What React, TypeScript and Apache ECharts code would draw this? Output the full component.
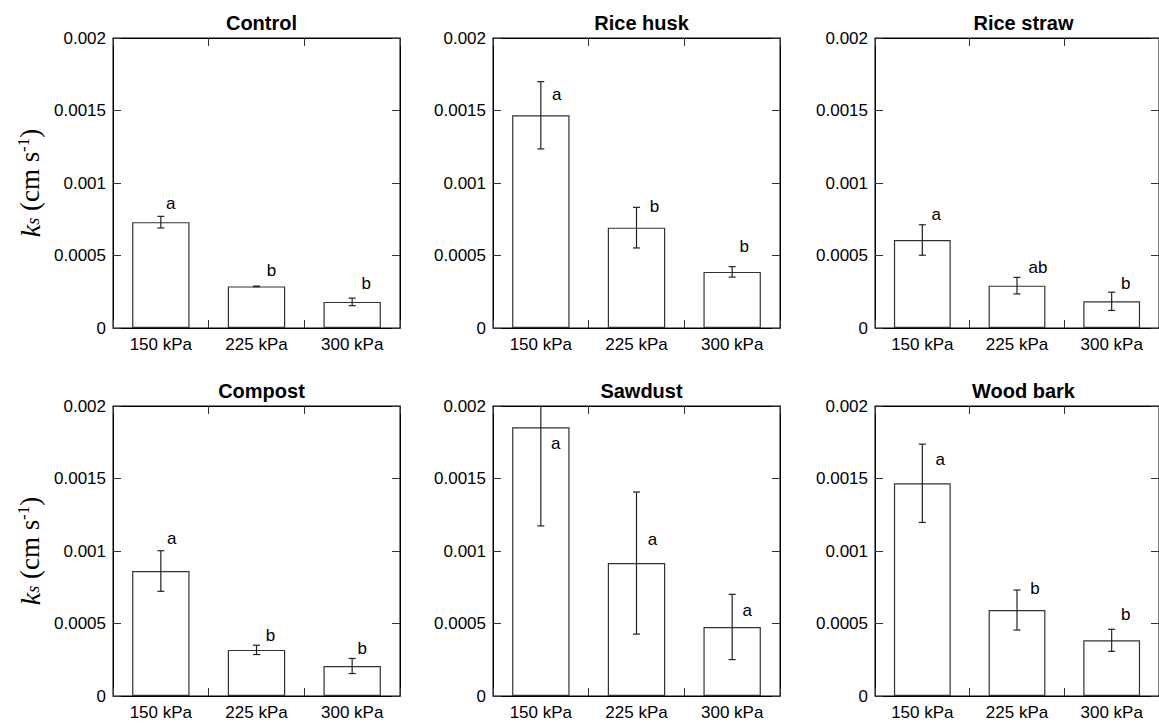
import React, { useEffect, useRef } from "react";
import * as echarts from "echarts";

// Compaction pressure levels
const categories = ["150 kPa", "225 kPa", "300 kPa"];

// Amendment treatments (one panel each)
const panelTitles = ["Control", "Rice husk", "Rice straw", "Compost", "Sawdust", "Wood bark"];

// Mean saturated hydraulic conductivity ks (cm s^-1)
const controlMean = [0.00073, 0.000287, 0.00018];
const riceHuskMean = [0.001467, 0.000692, 0.000387];
const riceStrawMean = [0.000607, 0.000292, 0.000184];
const compostMean = [0.000862, 0.000318, 0.000207];
const sawdustMean = [0.001853, 0.000917, 0.000476];
const woodBarkMean = [0.001467, 0.000593, 0.000384];

// Standard errors
const controlErr = [0.00004, 0.000002, 0.000026];
const riceHuskErr = [0.000232, 0.00014, 0.000036];
const riceStrawErr = [0.000105, 0.000057, 0.000063];
const compostErr = [0.00014, 0.000032, 0.000052];
const sawdustErr = [0.00068, 0.00049, 0.000225];
const woodBarkErr = [0.00027, 0.000138, 0.000076];

// Significance letters
const controlLetters = ["a", "b", "b"];
const riceHuskLetters = ["a", "b", "b"];
const riceStrawLetters = ["a", "ab", "b"];
const compostLetters = ["a", "b", "b"];
const sawdustLetters = ["a", "a", "a"];
const woodBarkLetters = ["a", "b", "b"];

// Y axis ticks
const yMin = 0;
const yMax = 0.002;
const yStep = 0.0005;

const means = [controlMean, riceHuskMean, riceStrawMean, compostMean, sawdustMean, woodBarkMean];
const errs = [controlErr, riceHuskErr, riceStrawErr, compostErr, sawdustErr, woodBarkErr];
const letters = [controlLetters, riceHuskLetters, riceStrawLetters, compostLetters, sawdustLetters, woodBarkLetters];

// Layout: pixel offsets of each letter from the top of its error bar
const letterOffsets = [
  [[10, -13], [15, -16], [14, -15]],
  [[16, 13], [18, -1], [12, -20]],
  [[14, -10], [21, -10], [14, -9]],
  [[11, -12], [14, -10], [10, -10]],
  [[15, 37], [16, 48], [15, 16]],
  [[18, 15], [18, -2], [14, -15]],
];

const colLeft = [113, 493, 875];
const rowTop = [38, 406];
const plotW = 287;
const plotH = 290;

const SANS = '"Liberation Sans", Arial, sans-serif';
const SERIF = '"Liberation Serif", "Times New Roman", serif';

function fmt(v: number) {
  return String(+v.toFixed(4));
}

export default function App() {
  const ref = useRef<HTMLDivElement>(null);

  useEffect(() => {
    if (!ref.current) return;
    const chart = echarts.init(ref.current, undefined, { renderer: "svg" });

    const grid: any[] = [];
    const xAxis: any[] = [];
    const yAxis: any[] = [];
    const series: any[] = [];
    const title: any[] = [];
    const graphic: any[] = [];

    const axisLine = { show: true, onZero: false, lineStyle: { color: "#000", width: 1 } };
    const tick = { show: true, inside: true, length: 8, lineStyle: { color: "#333", width: 1 } };

    panelTitles.forEach((name, p) => {
      const r = Math.floor(p / 3);
      const c = p % 3;
      const left = colLeft[c];
      const top = rowTop[r];
      grid.push({
        left,
        top,
        width: plotW,
        height: plotH,
        containLabel: false,
        show: true,
        borderColor: "#000",
        borderWidth: 1,
        backgroundColor: "transparent",
      });

      xAxis.push({
        type: "category",
        gridIndex: p,
        position: "bottom",
        data: categories,
        axisLine,
        axisTick: tick,
        axisLabel: { color: "#000", fontFamily: SANS, fontSize: 17, margin: 8 },
        splitLine: { show: false },
      });
      xAxis.push({
        type: "category",
        gridIndex: p,
        position: "top",
        data: categories,
        axisLine,
        axisTick: tick,
        axisLabel: { show: false },
        splitLine: { show: false },
      });
      yAxis.push({
        type: "value",
        gridIndex: p,
        position: "left",
        min: yMin,
        max: yMax,
        interval: yStep,
        axisLine,
        axisTick: tick,
        axisLabel: { color: "#000", fontFamily: SANS, fontSize: 17, margin: 7, formatter: fmt },
        splitLine: { show: false },
      });
      yAxis.push({
        type: "value",
        gridIndex: p,
        position: "right",
        min: yMin,
        max: yMax,
        interval: yStep,
        axisLine,
        axisTick: tick,
        axisLabel: { show: false },
        splitLine: { show: false },
      });

      series.push({
        type: "bar",
        xAxisIndex: p * 2,
        yAxisIndex: p * 2,
        data: means[p],
        barWidth: "60%",
        itemStyle: { color: "#fff", borderColor: "#333", borderWidth: 1.2 },
        z: 2,
      });

      series.push({
        type: "custom",
        xAxisIndex: p * 2,
        yAxisIndex: p * 2,
        z: 3,
        data: means[p].map((m, i) => [i, m, errs[p][i]]),
        renderItem: (params: any, api: any) => {
          const i = params.dataIndex;
          const m = means[p][i];
          const e = errs[p][i];
          const x = api.coord([i, m])[0];
          const yTop = api.coord([i, yMax])[1];
          let yHi = api.coord([i, m + e])[1];
          const yLo = api.coord([i, m - e])[1];
          const clipped = yHi < yTop;
          if (clipped) yHi = yTop;
          const cap = 3.5;
          const ls = { stroke: "#222", lineWidth: 1.2 };
          const children: any[] = [
            { type: "line", shape: { x1: x, y1: yHi, x2: x, y2: yLo }, style: ls },
            { type: "line", shape: { x1: x - cap, y1: yLo, x2: x + cap, y2: yLo }, style: ls },
          ];
          if (!clipped) {
            children.push({ type: "line", shape: { x1: x - cap, y1: yHi, x2: x + cap, y2: yHi }, style: ls });
          }
          const off = letterOffsets[p][i];
          children.push({
            type: "text",
            x: x + off[0],
            y: yHi + off[1],
            style: {
              text: letters[p][i],
              fill: "#000",
              font: `17px ${SANS}`,
              align: "center",
              verticalAlign: "middle",
            },
          });
          return { type: "group", children };
        },
      });

      title.push({
        text: name,
        left: left + plotW / 2,
        top: top - 30,
        textAlign: "center",
        textStyle: { fontFamily: SANS, fontSize: 20, fontWeight: "bold", color: "#000" },
      });
    });

    // Y axis name for each row
    rowTop.forEach((t) => {
      graphic.push({
        type: "text",
        x: 30,
        y: t + plotH / 2,
        rotation: Math.PI / 2,
        style: {
          text: "{k|k}{s|s}{n| (cm s}{sup|-1}{n|)}",
          align: "center",
          verticalAlign: "middle",
          fill: "#000",
          font: `26px ${SERIF}`,
          rich: {
            k: { fontFamily: SERIF, fontStyle: "italic", fontSize: 28, lineHeight: 32, fill: "#000" },
            s: { fontFamily: SERIF, fontStyle: "italic", fontSize: 18, verticalAlign: "bottom", padding: [0, 0, 4, 0], fill: "#000" },
            n: { fontFamily: SERIF, fontSize: 27, lineHeight: 32, fill: "#000" },
            sup: { fontFamily: SERIF, fontSize: 17, verticalAlign: "top", padding: [1, 0, 0, 0], fill: "#000" },
          },
        },
      });
    });

    chart.setOption({
      animation: false,
      backgroundColor: "#fff",
      title,
      grid,
      xAxis,
      yAxis,
      series,
      graphic,
    });

    return () => chart.dispose();
  }, []);

  return (
    <div
      ref={ref}
      style={{ position: "absolute", left: 0, top: 0, width: 1159, height: 724 }}
    />
  );
}
